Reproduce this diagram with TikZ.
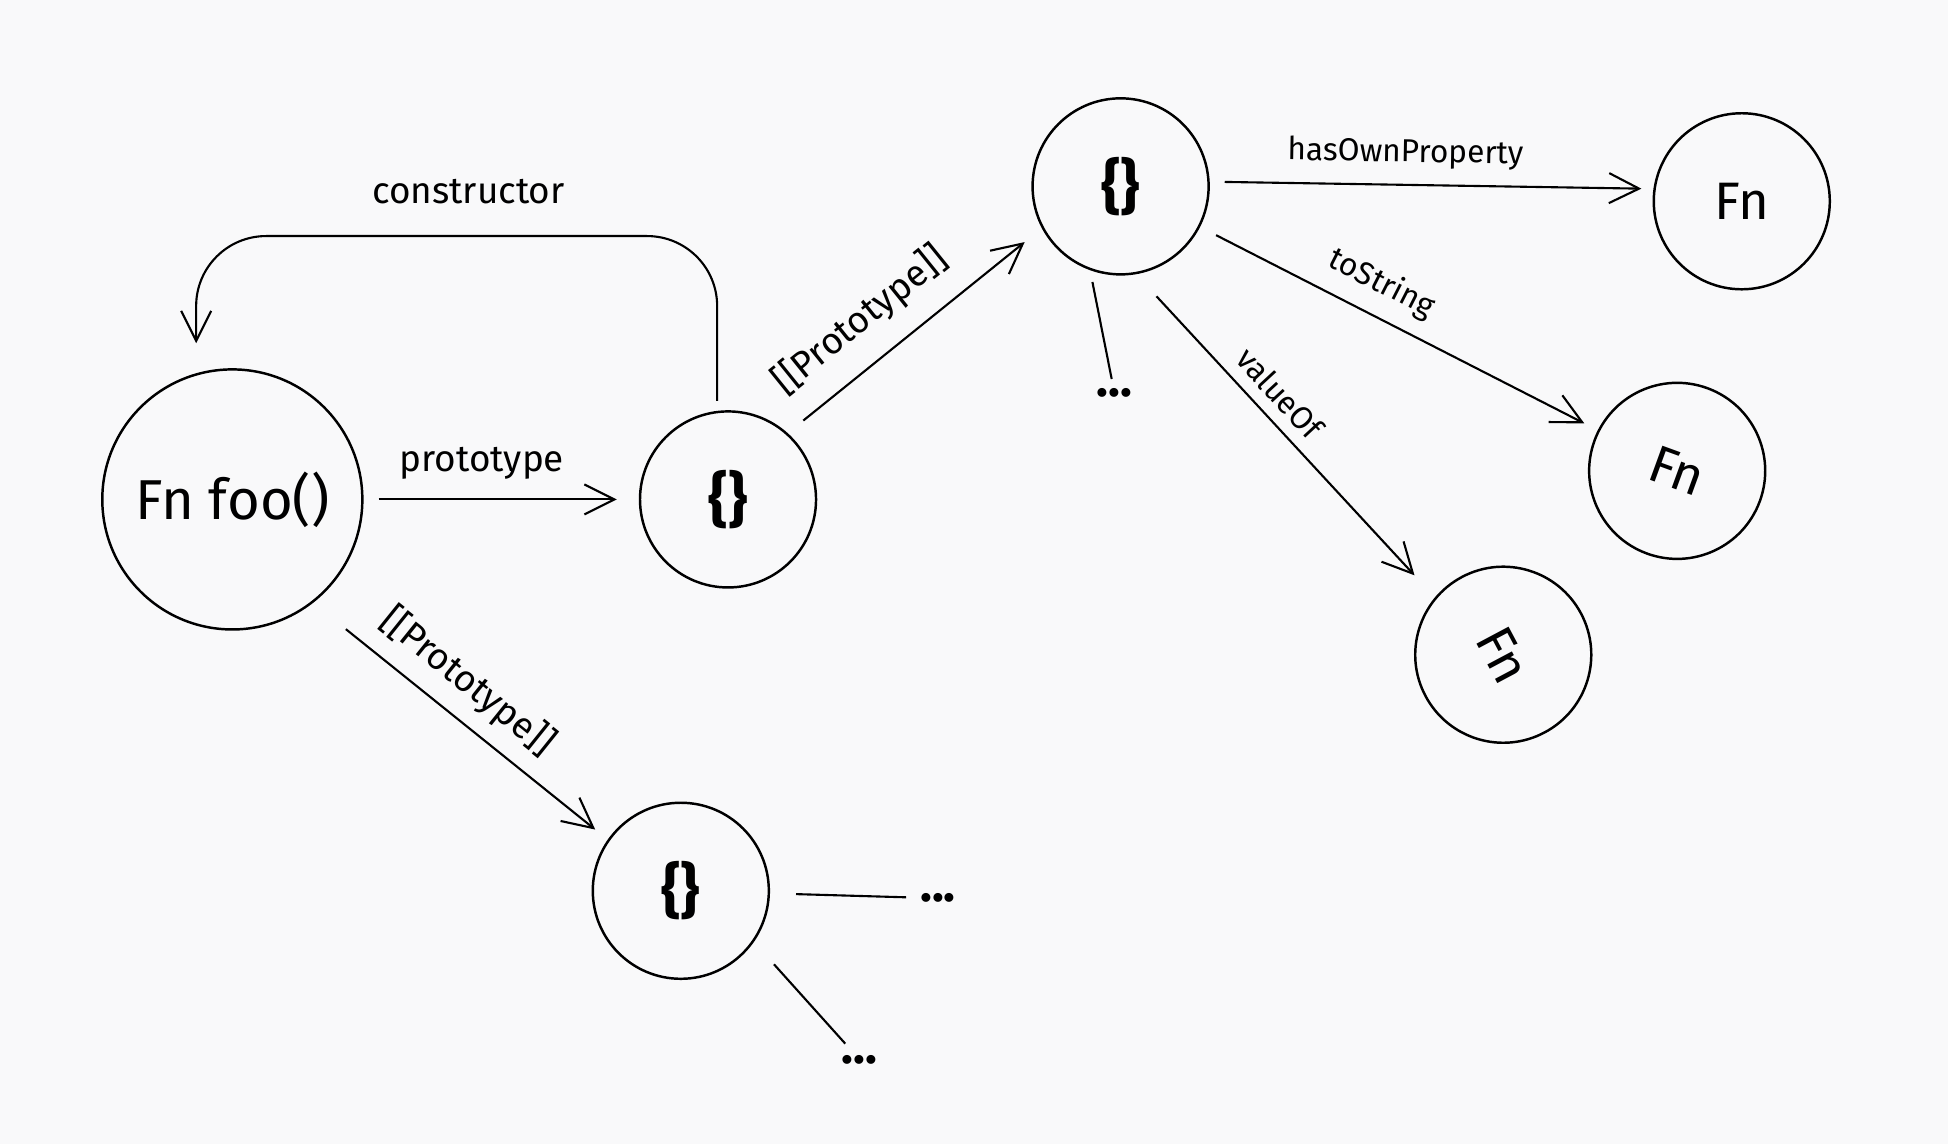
\documentclass[tikz,border=0pt]{standalone}
\usepackage{fontspec}
\setmainfont{Fira Sans}
\usepackage{xcolor}
\usetikzlibrary{arrows.meta, positioning, calc}
\definecolor{paper}{RGB}{249,249,250}

\begin{document}
\begin{tikzpicture}[x=0.0124231cm, y=-0.0124231cm,
		bubble/.style={draw, circle, line width=0.7pt, inner sep=0pt, minimum size=1.76cm, font=\fontsize{15}{18}\selectfont},
		brace/.style={bubble, font=\bfseries\fontsize{17}{20}\selectfont},
		arr/.style={-{Straight Barb[length=3mm, width=3mm]}, line width=0.6pt},
		link/.style={line width=0.6pt},
		lbl/.style={font=\fontsize{9}{11}\selectfont},
		biglbl/.style={font=\fontsize{10.5}{12}\selectfont},
		dots/.style={font=\bfseries\fontsize{14}{16}\selectfont, inner sep=1pt}]
	\fill[paper] (0, 0) rectangle (1568, 921);
	\node [bubble, minimum size=2.6cm, font=\fontsize{16}{19}\selectfont] (foo) at (187, 402) {Fn foo()};
	\node [brace] (protoA) at (586, 402) {\{\}};
	\node [brace] (objproto) at (902, 150) {\{\}};
	\node [brace] (protoB) at (548, 717) {\{\}};
	\node [bubble] (fnA) at (1402, 162) {Fn};
	\node [bubble, rotate=-20] (fnB) at (1350, 379) {Fn};
	\node [bubble, rotate=-62] (fnC) at (1210, 527) {Fn};
	\node [dots] (dotsA) at (897, 316) {...};
	\node [dots] (dotsB) at (755, 723) {...};
	\node [dots] (dotsC) at (692, 853) {...};
	\coordinate (ctop) at (370, 190);
	\draw [arr, shorten <=0.15cm, shorten >=0.22cm] (foo) -- node [above=2pt, pos=0.43, biglbl] {prototype} (protoA);
	\draw [arr, rounded corners=0.7cm, shorten <=0.1cm, shorten >=0.3cm] (protoA.97) |- (ctop) -| (foo.106);
	\node [biglbl] at (377, 154) {constructor};
	\draw [arr, shorten <=0.2cm, shorten >=0.22cm] (protoA.48) -- node [above=3pt, sloped, pos=0.39, biglbl] {[[Prototype]]} (objproto.208);
	\draw [arr, shorten <=0.42cm, shorten >=0.16cm] (foo.-52) -- node [above=1pt, sloped, pos=0.45, biglbl] {[[Prototype]]} (protoB.145);
	\draw [arr, shorten <=0.15cm, shorten >=0.12cm] (objproto.3) -- node [above=1pt, sloped, pos=0.44, lbl] {hasOwnProperty} (fnA.172);
	\draw [arr, shorten <=0.18cm, shorten >=0.15cm] (objproto) -- node [above=1pt, sloped, pos=0.42, lbl] {toString} (fnB);
	\draw [arr, shorten <=0.3cm, shorten >=0.3cm] (objproto.-80) -- node [above=0pt, sloped, pos=0.42, lbl] {valueOf} (fnC.202);
	\draw [link, shorten <=0.12cm, shorten >=0.05cm] (objproto.250) -- (dotsA);
	\draw [link, shorten <=0.26cm, shorten >=0.1cm] (protoB) -- (dotsB);
	\draw [link, shorten <=0.3cm, shorten >=0.1cm] (protoB.-35) -- (dotsC);
\end{tikzpicture}
\end{document}
